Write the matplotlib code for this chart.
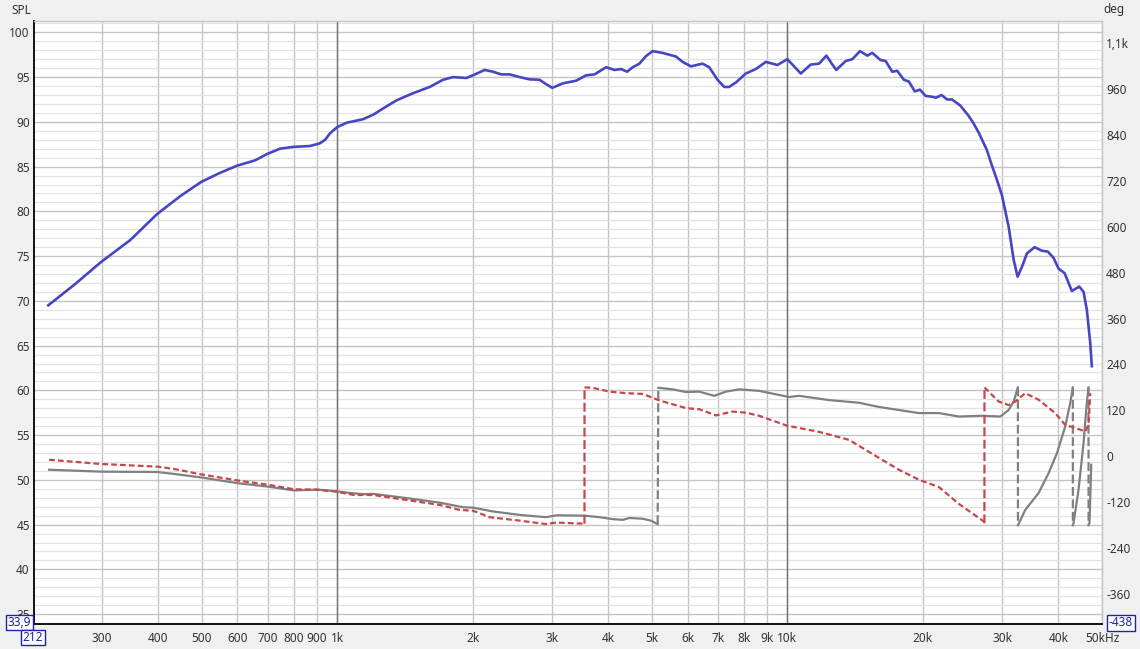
import numpy as np
import matplotlib
matplotlib.use("Agg")
import matplotlib.pyplot as plt
from matplotlib.ticker import FixedLocator, NullFormatter

# ---------------- data ----------------
spl_freq = [228, 262, 298, 347, 398, 448, 499, 549, 599, 657, 698, 746, 798, 870, 915, 940, 963,
            999, 1049, 1142, 1202, 1265, 1354, 1474, 1605, 1718, 1808, 1936, 2002, 2126, 2218,
            2315, 2415, 2542, 2675, 2815, 2913, 3004, 3171, 3395, 3573, 3728, 3957, 4128, 4272,
            4405, 4533, 4691, 4853, 5020, 5150, 5283, 5655, 5850, 6108, 6480, 6706, 6996, 7240,
            7426, 7685, 8087, 8511, 8959, 9502, 10000, 10350, 10710, 11270, 11760, 12210, 12550,
            12840, 13480, 13940, 14500, 15050, 15440, 16110, 16530, 17100, 17540, 18150, 18620,
            19190, 19690, 20280, 20970, 21400, 22000, 22630, 23220, 24240, 25290, 25940, 26610,
            27720, 28440, 29220, 29970, 31010, 31820, 32470, 33200, 34060, 35420, 36770, 37910,
            39030, 40040, 41290, 42860, 44510, 45500, 46270, 47080, 47460]
spl_db = [69.5, 71.9, 74.3, 76.8, 79.7, 81.7, 83.3, 84.3, 85.1, 85.7, 86.4, 87.0, 87.2, 87.3, 87.6, 88.0, 88.7,
          89.4, 89.9, 90.3, 90.8, 91.5, 92.4, 93.2, 93.9, 94.7, 95.0, 94.9, 95.2, 95.8, 95.6,
          95.3, 95.3, 95.0, 94.75, 94.7, 94.2, 93.8, 94.3, 94.6, 95.2, 95.3, 96.1, 95.8, 95.9,
          95.6, 96.1, 96.5, 97.35, 97.9, 97.8, 97.7, 97.3, 96.7, 96.2, 96.5, 96.1, 94.7, 93.9,
          93.9, 94.4, 95.4, 95.9, 96.7, 96.35, 97.0, 96.2, 95.4, 96.4, 96.5, 97.4, 96.5,
          95.8, 96.8, 97.0, 97.9, 97.4, 97.7, 96.9, 96.8, 95.6, 95.7, 94.7, 94.5,
          93.4, 93.6, 92.9, 92.8, 92.7, 93.0, 92.5, 92.5, 91.8, 90.65, 89.8, 88.8,
          86.9, 85.2, 83.5, 81.8, 78.3, 74.6, 72.7, 73.8, 75.3, 76.0, 75.6, 75.5,
          74.8, 73.6, 73.1, 71.1, 71.6, 71.0, 69.0, 65.3, 62.7]

gray_freq = [229, 299, 399, 434, 498, 600, 700, 802, 903, 992, 1071, 1146, 1202, 1425, 1690, 1903,
             2002, 2218, 2542, 2913, 3066, 3542, 3824, 4093, 4306, 4457, 4771, 4978, 5150,
             5168, 5559, 5952, 6372, 6880, 7302, 7815, 8658, 10090, 10620, 12370, 14420, 15970,
             17690, 19590, 21700, 24030, 27070, 29730, 31010, 31820, 32520,
             32530, 33760, 36140, 38050, 39700, 41430, 42500, 43070,
             43080, 43230, 44350, 45500, 46270, 46670,
             46680, 46910, 47320]
gray_deg = [-35, -40, -41, -46, -55, -70, -79, -89, -87, -91, -96, -99, -98, -109, -121, -133,
            -134, -144, -153, -159, -154, -155, -159, -164, -166, -161, -163, -168, -177,
            179, 175, 168, 169, 158, 169, 175, 171, 155, 158, 147, 140, 129,
            121, 113, 113, 104, 106, 104, 121, 143, 180,
            -180, -140, -96, -44, 8, 78, 139, 180,
            -180, -174, -87, 35, 140, 180,
            -180, -174, -22]

red_freq = [229, 299, 399, 434, 498, 600, 700, 802, 903, 992, 1089, 1202, 1425, 1690, 1871,
            2002, 2181, 2542, 2913, 3066, 3542,
            3543, 3695, 4024, 4383, 4771, 5195, 5952, 6372, 6939, 7551, 8087, 8658, 9985,
            11760, 13710, 15970, 17690, 19590, 21700, 24030, 27310, 27400,
            27410, 29480, 31010, 32090, 33760, 36140, 39360, 41430, 43610, 45890, 46670, 47080]
red_deg = [-9, -20, -27, -33, -47, -63, -74, -86, -87, -92, -101, -101, -114, -127, -140,
           -142, -159, -168, -177, -173, -176,
           180, 179, 169, 165, 163, 146, 126, 123, 107, 117, 114, 106, 80,
           64, 43, -4, -35, -61, -80, -124, -170, -175,
           180, 143, 134, 143, 165, 148, 113, 82, 74, 65, 82, 165]

spl_ticks = list(range(35, 101, 5))
deg_ticks = [-360, -240, -120, 0, 120, 240, 360, 480, 600, 720, 840, 960, 1080]
deg_labels = ["-360", "-240", "-120", "0", "120", "240", "360", "480", "600", "720", "840", "960", "1,1k"]
x_ticks = [300, 400, 500, 600, 700, 800, 900, 1000, 2000, 3000, 4000, 5000, 6000, 7000, 8000,
           9000, 10000, 20000, 30000, 40000, 50000]
x_labels = ["300", "400", "500", "600", "700", "800", "900", "1k", "2k", "3k", "4k", "5k", "6k",
            "7k", "8k", "9k", "10k", "20k", "30k", "40k", "50kHz"]

f_min, f_max = 212, 50000
spl_min, spl_max = 33.9, 101.3
deg_min, deg_max = -438, 1138

# ---------------- figure ----------------
plt.rcParams['font.family'] = ['Noto Sans', 'DejaVu Sans']
W, H = 1140, 649
fig = plt.figure(figsize=(W / 100, H / 100), dpi=100, facecolor='#f0f0f0')
ax = fig.add_axes([34 / W, (H - 624) / H, (1102 - 34) / W, (624 - 20.7) / H])
ax.set_facecolor('white')
ax.set_xscale('log')
ax.set_xlim(f_min, f_max)
ax.set_ylim(spl_min, spl_max)

# grids
ax.yaxis.set_major_locator(FixedLocator(spl_ticks))
ax.yaxis.set_minor_locator(FixedLocator(list(range(34, 102))))
ax.yaxis.set_minor_formatter(NullFormatter())
ax.xaxis.set_major_locator(FixedLocator(x_ticks))
ax.xaxis.set_minor_locator(FixedLocator([]))
ax.set_xticklabels(x_labels)
ax.grid(which='minor', axis='y', color='#e2e2e2', lw=0.9)
ax.grid(which='major', axis='y', color='#c4c4c4', lw=1.0)
ax.grid(which='major', axis='x', color='#c4c4c4', lw=1.0)
for f in (1000, 10000):
    ax.axvline(f, color='#707070', lw=1.0, zorder=1)
ax.set_axisbelow(True)
ax.tick_params(axis='both', which='both', length=0, labelsize=8.5, colors='#333333')
ax.tick_params(axis='x', pad=6)
ax.tick_params(axis='y', pad=3)

for s in ('left', 'bottom'):
    ax.spines[s].set_color('black')
    ax.spines[s].set_linewidth(1.3)
for s in ('top', 'right'):
    ax.spines[s].set_color('#c4c4c4')
    ax.spines[s].set_linewidth(1.0)

ax2 = ax.twinx()
ax2.set_ylim(deg_min, deg_max)
ax2.set_yticks(deg_ticks)
ax2.set_yticklabels(deg_labels)
ax2.tick_params(axis='y', length=0, labelsize=8.5, colors='#333333', pad=3)
for s in ax2.spines.values():
    s.set_visible(False)


def draw_phase(axis, freq, deg, color, ls_main, dashes_main, lw):
    freq = np.asarray(freq, float)
    deg = np.asarray(deg, float)
    jumps = np.where(np.abs(np.diff(deg)) > 300)[0]
    starts = np.r_[0, jumps + 1]
    ends = np.r_[jumps + 1, len(freq)]
    for a, b in zip(starts, ends):
        line, = axis.plot(freq[a:b], deg[a:b], color=color, lw=lw, ls=ls_main, zorder=3)
        if dashes_main is not None:
            line.set_dashes(dashes_main)
    for j in jumps:
        line, = axis.plot(freq[j:j + 2], deg[j:j + 2], color=color, lw=lw, zorder=3)
        line.set_dashes((4, 1.6))


draw_phase(ax2, gray_freq, gray_deg, '#808080', '-', None, 1.6)
draw_phase(ax2, red_freq, red_deg, '#c8474a', '--', (2.6, 1.4), 1.6)

ax3 = ax.twinx()
ax3.set_ylim(spl_min, spl_max)
ax3.axis('off')
ax3.plot(spl_freq, spl_db, color='#4646c4', lw=1.9, zorder=4, solid_joinstyle='round')
ax3.set_xlim(f_min, f_max)

# axis titles
fig.text(21 / W, 1 - 10 / H, 'SPL', fontsize=8.5, color='#333333', ha='center', va='center')
fig.text(1114 / W, 1 - 10 / H, 'deg', fontsize=8.5, color='#333333', ha='center', va='center')

# range boxes
box = dict(boxstyle='square,pad=0.12', facecolor='white', edgecolor='#2020b0', lw=1.0)
fig.text(19.5 / W, 1 - 622.5 / H, '33,9', fontsize=8.5, color='#2020b0', ha='center', va='center', bbox=box)
fig.text(33 / W, 1 - 637.5 / H, '212', fontsize=8.5, color='#2020b0', ha='center', va='center', bbox=box)
fig.text(1121 / W, 1 - 623 / H, '-438', fontsize=8.5, color='#2020b0', ha='center', va='center', bbox=box)

fig.savefig('out.png', dpi=100, facecolor=fig.get_facecolor())
